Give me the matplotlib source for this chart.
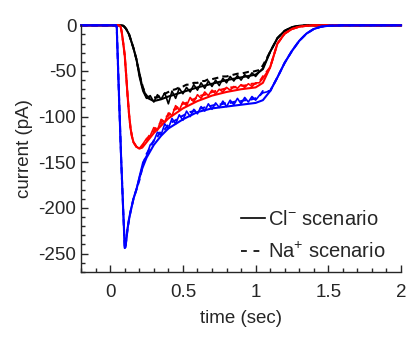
import numpy as np
import matplotlib
matplotlib.use('Agg')
import matplotlib.pyplot as plt
from matplotlib.ticker import MultipleLocator

plt.rcParams['font.family'] = ['Liberation Sans', 'DejaVu Sans']
plt.rcParams['axes.unicode_minus'] = False

# time grid of the smooth (mean) curves
t_s = [-0.2, 0.0, 0.04, 0.045, 0.06, 0.07, 0.075, 0.08, 0.09, 0.10, 0.105, 0.11,
       0.12, 0.13, 0.14, 0.15, 0.16, 0.18, 0.20, 0.22, 0.25, 0.30, 0.35, 0.40,
       0.50, 0.60, 0.70, 0.80, 0.90, 1.00, 1.05, 1.10, 1.15, 1.20, 1.25, 1.30,
       1.35, 1.40, 1.45, 1.50, 1.60, 2.00]

black_s = [0, 0, 0, 0, 0, 0, 0, 0, -0.5, -2, -3, -4, -7, -10, -15, -20, -25, -37,
           -52, -67, -79, -83, -81, -78, -73, -68, -64, -60, -57, -54, -48, -29,
           -14, -6, -2, -0.5, 0, 0, 0, 0, 0, 0]
red_s = [0, 0, 0, 0, 0, -1, -4, -8, -20, -33, -44, -55, -78, -98, -113, -122, -128,
         -133, -135, -134, -128, -118, -110, -102, -91, -83, -77, -73, -70, -68,
         -63, -46, -20, -9, -4, -1.5, -0.5, 0, 0, 0, 0, 0]
blue_s = [0, 0, 0, -2, -75, -122, -145, -165, -205, -244, -243, -236, -222, -212,
          -204, -197, -190, -180, -168, -157, -145, -131, -121, -113, -103, -95,
          -91, -89, -87, -85, -82, -72, -57, -41, -28, -17, -9, -4, -1.5, -0.5, 0, 0]

# time grid of the noisy single traces (plateau part)
t_n = [0.200, 0.225, 0.250, 0.275, 0.300, 0.325, 0.350, 0.375, 0.400, 0.425,
       0.450, 0.475, 0.500, 0.525, 0.550, 0.575, 0.600, 0.625, 0.650, 0.675,
       0.700, 0.725, 0.750, 0.775, 0.800, 0.825, 0.850, 0.875, 0.900, 0.925,
       0.950, 0.975, 1.000, 1.025, 1.050]

black_cl = [-56, -72, -80, -77, -84, -76, -81, -74, -86, -72, -80, -69, -75, -68,
            -73, -65, -71, -63, -69, -61, -67, -60, -66, -58, -63, -56, -61, -55,
            -60, -54, -58, -52, -56, -51, -47]
black_na = [-53, -68, -77, -80, -79, -79, -76, -75, -73, -71, -70, -68, -67, -65,
            -65, -63, -63, -61, -61, -59, -59, -58, -57, -56, -56, -55, -54, -53,
            -53, -52, -51, -51, -50, -49, -44]
red_cl = [-135, -130, -124, -121, -112, -115, -103, -106, -96, -99, -88, -93, -84,
          -88, -79, -84, -76, -80, -73, -77, -71, -75, -70, -73, -68, -71, -67,
          -69, -65, -68, -64, -67, -63, -63, -58]
red_na = [-136, -131, -126, -119, -116, -110, -107, -101, -99, -93, -92, -88, -86,
          -85, -82, -81, -79, -77, -76, -75, -73, -72, -71, -70, -69, -68, -68,
          -67, -66, -66, -65, -64, -64, -62, -56]
blue_cl = [-166, -150, -143, -131, -127, -117, -120, -108, -113, -102, -108, -98,
           -104, -94, -100, -92, -97, -89, -94, -86, -92, -85, -90, -83, -89, -82,
           -87, -80, -86, -79, -84, -78, -82, -77, -74]
blue_na = [-170, -153, -141, -134, -126, -122, -116, -114, -109, -106, -104, -101,
           -99, -97, -95, -94, -92, -91, -90, -89, -88, -87, -87, -86, -85, -85,
           -84, -83, -83, -82, -82, -81, -80, -78, -72]


def joined(ts, ys, tn, yn):
	ts = np.array(ts); ys = np.array(ys)
	pre = ts < tn[0]; post = ts > tn[-1]
	t = np.concatenate([ts[pre], tn, ts[post]])
	y = np.concatenate([ys[pre], yn, ys[post]])
	return t, y


fig = plt.figure(figsize=(4.16, 3.38), dpi=100)
ax = fig.add_axes([0.195, 0.196, 0.769, 0.729])

lw = 1.5
dash = (0, (3, 2))
for col, ys, ycl, yna in [('black', black_s, black_cl, black_na),
                          ('red', red_s, red_cl, red_na),
                          ('blue', blue_s, blue_cl, blue_na)]:
	ax.plot(t_s, ys, color=col, lw=lw, clip_on=False)
	t, y = joined(t_s, ys, t_n, ycl)
	ax.plot(t, y, color=col, lw=1.2, clip_on=False)
	t, y = joined(t_s, ys, t_n, yna)
	ax.plot(t, y, color=col, lw=lw, ls=dash, clip_on=False)

ax.set_xlim(-0.2, 2)
ax.set_ylim(-270, 0)
ax.set_xticks([0, 0.5, 1, 1.5, 2])
ax.set_xticklabels(['0', '0.5', '1', '1.5', '2'])
ax.set_yticks([0, -50, -100, -150, -200, -250])
ax.xaxis.set_minor_locator(MultipleLocator(0.1))
ax.yaxis.set_minor_locator(MultipleLocator(10))
ax.tick_params(which='both', direction='in', colors='#262626', labelsize=13.5, width=1)
ax.tick_params(which='major', length=5)
ax.tick_params(which='minor', length=3)
ax.tick_params(axis='x', pad=9)
ax.spines['top'].set_visible(False)
ax.spines['right'].set_visible(False)
for s in ['left', 'bottom']:
	ax.spines[s].set_color('#262626')
	ax.spines[s].set_linewidth(1)

ax.set_xlabel('time (sec)', fontsize=13.5, color='#262626', labelpad=6)
ax.set_ylabel('current (pA)', fontsize=13.5, color='#262626', labelpad=4)

h1, = ax.plot([], [], color='black', lw=1.2)
h2, = ax.plot([], [], color='black', lw=1.2, ls=(0, (3.5, 4)))
ax.legend([h1, h2], ['Cl$^{\\mathregular{-}}$ scenario', 'Na$^{\\mathregular{+}}$ scenario'],
          loc='center left', bbox_to_anchor=(0.50, 0.145), frameon=False, fontsize=14.5,
          handlelength=1.2, handletextpad=0.15, labelspacing=0.6, borderpad=0,
          borderaxespad=0, labelcolor='#262626')

fig.savefig('out.png', dpi=100)
